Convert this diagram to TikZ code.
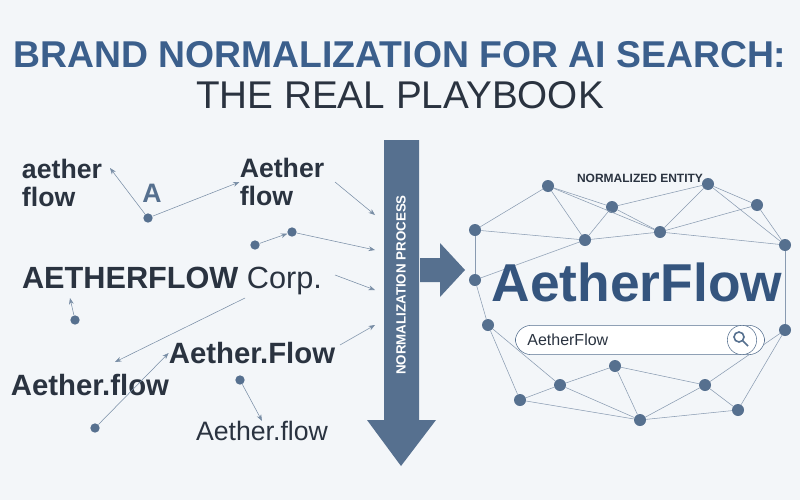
\documentclass[tikz,border=0pt]{standalone}
\usepackage{fontspec}
\setmainfont{Liberation Sans}
\usetikzlibrary{arrows.meta, positioning}
\definecolor{bluet}{HTML}{3B5F8C}
\definecolor{darkt}{HTML}{2A3340}
\definecolor{slate}{HTML}{56708F}
\definecolor{bg}{HTML}{F3F6F9}
\begin{document}
\begin{tikzpicture}[x=0.75pt, y=-0.75pt, >=Stealth]
	\tikzstyle{dot} = [circle, fill=slate, inner sep=0pt, minimum size=7pt]
	\tikzstyle{net} = [circle, fill=slate, inner sep=0pt, minimum size=9pt]
	\tikzstyle{word} = [font=\bfseries\fontsize{20}{21}\selectfont, text=darkt, align=left, inner sep=0pt]
	\tikzstyle{arrow} = [->, slate!80, thin]
	\tikzstyle{link} = [slate!70, thin]
	
	\fill[bg] (0,0) rectangle (800,500);
	\useasboundingbox (0,0) rectangle (800,500);
	
	% title
	\node[font=\bfseries\fontsize{28}{29}\selectfont, text=bluet] (t1) at (400,55) {BRAND NORMALIZATION FOR AI SEARCH:};
	\node[font=\fontsize{29}{30}\selectfont, text=darkt] (t2) at (400,95) {THE REAL PLAYBOOK};
	
	% variants
	\node[word, align=left] (v1) at (62,183) {aether\\flow};
	\node[word, text=slate] (v2) at (152,193) {A};
	\node[word] (v3) at (282,182) {Aether\\flow};
	\node[word] (v4) at (172,281) {\fontsize{23}{24}\selectfont AETHERFLOW \mdseries Corp.};
	\node[word] (v5) at (252,353) {\fontsize{22}{23}\selectfont Aether.Flow};
	\node[word] (v6) at (90,385) {\fontsize{22}{23}\selectfont Aether.flow};
	\node[word, font=\fontsize{20}{21}\selectfont] (v7) at (262,431) {Aether.flow};
	
	\node[dot] (d1) at (148,218) {};
	\node[dot] (d2) at (292,232) {};
	\node[dot] (d3) at (255,245) {};
	\node[dot] (d4) at (75,320) {};
	\node[dot] (d5) at (240,380) {};
	\node[dot] (d6) at (95,428) {};
	\coordinate (e1) at (375,215);
	\coordinate (e2) at (375,250);
	\coordinate (e3) at (375,290);
	\coordinate (e4) at (375,325);
	\coordinate (s1) at (335,182);
	\coordinate (s2) at (245,298);
	\coordinate (s3) at (335,275);
	\coordinate (s4) at (340,345);
	
	\draw[arrow] (d1) -- (110,168);
	\draw[arrow] (d1) -- (v3.west);
	\draw[arrow] (d3) -- (d2);
	\draw[arrow] (d2) -- (e2);
	\draw[arrow] (s1) -- (e1);
	\draw[arrow] (d4) -- (70,298);
	\draw[arrow] (s2) -- (115,362);
	\draw[arrow] (d5) -- (v7.north);
	\draw[arrow] (d6) -- (v5.west);
	\draw[arrow] (s3) -- (e3);
	\draw[arrow] (s4) -- (e4);
	
	% process arrow
	\fill[slate] (384,140) -- (419,140) -- (419,420) -- (436,420) -- (401,466) -- (367,420) -- (384,420) -- cycle;
	\node[rotate=90, text=white, font=\bfseries\fontsize{10}{11}\selectfont] (np) at (401,285) {NORMALIZATION PROCESS};
	\fill[slate] (420,258) -- (440,258) -- (440,243) -- (465,270) -- (440,297) -- (440,282) -- (420,282) -- cycle;
	
	% network
	\node[font=\bfseries\fontsize{9}{10}\selectfont, text=darkt] (ne) at (640,178) {NORMALIZED ENTITY};
	\foreach \n/\x/\y in {n1/548/186, n2/708/184, n3/612/207, n4/757/205, n5/475/230, n6/585/240, n7/660/232, n8/785/245,
		n9/488/325, n10/785/330, n11/615/366, n12/560/385, n13/705/385, n14/640/420, n15/738/410, n16/520/400, n17/475/280}
		\node[net] (\n) at (\x,\y) {};
	\foreach \a/\b in {n1/n3, n1/n5, n1/n6, n1/n7, n2/n3, n2/n4, n2/n7, n3/n6, n3/n7, n4/n8, n2/n8, n5/n6, n5/n17, n17/n9,
		n6/n7, n7/n8, n9/n16, n9/n12, n16/n12, n12/n11, n12/n14, n11/n14, n11/n13, n13/n14, n13/n15, n15/n10, n10/n13, n14/n15,
		n16/n14, n4/n7, n6/n17, n8/n10}
		\draw[link] (\a) -- (\b);
	\node[font=\bfseries\fontsize{40}{42}\selectfont, text=bluet!90!black] (af) at (637,282) {AetherFlow};
	\node[draw=slate, fill=white, rounded corners=12pt, minimum width=187pt, minimum height=22pt, inner sep=0pt] (sb) at (640,340) {};
	\node[right=9pt of sb.west, anchor=west, inner sep=0pt, font=\fontsize{12}{13}\selectfont, text=darkt] (st) {AetherFlow};
	\node[draw=slate, fill=white, circle, minimum size=22pt, inner sep=0pt] (mg) at (742,340) {};
	\draw[slate, line width=1.2pt] (739,337) circle (5) (743,341) -- (748,346);
\end{tikzpicture}
\end{document}
